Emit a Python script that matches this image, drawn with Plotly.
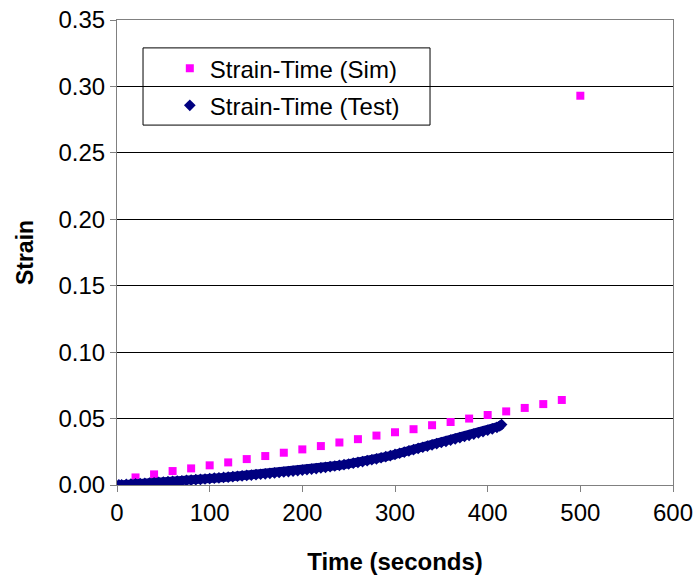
import plotly.graph_objects as go

# Simulated strain, sampled every 20 s
sim_time = [0, 20, 40, 60, 80, 100, 120, 140, 160, 180, 200, 220, 240, 260, 280,
            300, 320, 340, 360, 380, 400, 420, 440, 460, 480, 500]
sim_strain = [0.0000, 0.0057, 0.0080, 0.0105, 0.0125, 0.0148, 0.0170, 0.0195,
              0.0218, 0.0243, 0.0268, 0.0293, 0.0320, 0.0345, 0.0372, 0.0397,
              0.0420, 0.0450, 0.0474, 0.0500, 0.0527, 0.0554, 0.0580, 0.0609,
              0.0640, 0.2930]

# Measured strain from the test rig
test_time = [2, 5, 10, 15, 20, 25, 30, 35, 40, 45, 50, 55, 60, 65, 70, 75, 80, 85,
             90, 95, 100, 105, 110, 115, 120, 125, 130, 135, 140, 145, 150, 155,
             160, 165, 170, 175, 180, 185, 190, 195, 200, 205, 210, 215, 220, 225,
             230, 235, 240, 245, 250, 255, 260, 265, 270, 275, 280, 285, 290, 295,
             300, 305, 310, 315, 320, 325, 330, 335, 340, 345, 350, 355, 360, 365,
             370, 375, 380, 385, 390, 395, 400, 405, 410, 413, 415]
test_strain = [0.0001, 0.0002, 0.0004, 0.0006, 0.0008, 0.0011, 0.0013, 0.0015,
               0.0017, 0.0020, 0.0022, 0.0025, 0.0027, 0.0030, 0.0032, 0.0035,
               0.0037, 0.0040, 0.0042, 0.0045, 0.0048, 0.0051, 0.0054, 0.0057,
               0.0060, 0.0063, 0.0066, 0.0069, 0.0072, 0.0075, 0.0078, 0.0081,
               0.0084, 0.0088, 0.0091, 0.0094, 0.0098, 0.0101, 0.0105, 0.0108,
               0.0112, 0.0116, 0.0120, 0.0124, 0.0129, 0.0133, 0.0138, 0.0143,
               0.0148, 0.0153, 0.0158, 0.0164, 0.0170, 0.0176, 0.0183, 0.0190,
               0.0197, 0.0205, 0.0213, 0.0221, 0.0230, 0.0239, 0.0248, 0.0257,
               0.0266, 0.0275, 0.0284, 0.0293, 0.0302, 0.0311, 0.0320, 0.0329,
               0.0338, 0.0347, 0.0356, 0.0365, 0.0374, 0.0383, 0.0393, 0.0402,
               0.0412, 0.0422, 0.0434, 0.0444, 0.0455]

x_ticks = [0, 100, 200, 300, 400, 500, 600]
y_ticks = [0.00, 0.05, 0.10, 0.15, 0.20, 0.25, 0.30, 0.35]

FONT = "Liberation Sans, Arial, sans-serif"
AXIS_GREY = "#808080"
NAVY = "#000080"

fig = go.Figure()
fig.add_trace(go.Scatter(
    x=sim_time, y=sim_strain, mode="markers", name="Strain-Time (Sim)",
    legendgroup="sim",
    marker=dict(symbol="square", size=8, color="#FF00FF"),
))
# Dense test readings merge into a solid band
fig.add_trace(go.Scatter(
    x=test_time, y=test_strain, mode="lines", showlegend=False, hoverinfo="skip",
    legendgroup="test",
    line=dict(color=NAVY, width=9),
))
fig.add_trace(go.Scatter(
    x=test_time, y=test_strain, mode="markers", name="Strain-Time (Test)",
    legendgroup="test",
    marker=dict(symbol="diamond", size=9, color=NAVY),
))

# Legend frame (white box with black border)
fig.add_shape(type="rect", xref="paper", yref="paper",
              x0=0.0468, x1=0.563, y0=0.774, y1=0.94,
              line=dict(color="black", width=1), fillcolor="white", layer="below")

fig.update_layout(
    width=697, height=580,
    margin=dict(l=117, r=24, t=20, b=95),
    paper_bgcolor="white", plot_bgcolor="white",
    font=dict(family=FONT, size=24, color="black"),
    showlegend=True,
    legend=dict(x=0.095, y=0.944, xanchor="left", yanchor="top",
                traceorder="grouped", tracegroupgap=3,
                bgcolor="rgba(0,0,0,0)", borderwidth=0,
                font=dict(family=FONT, size=24, color="black")),
    xaxis=dict(
        range=[0, 600], tickvals=x_ticks, ticktext=[str(v) for v in x_ticks],
        showgrid=False, zeroline=False, automargin=False,
        showline=True, linecolor=AXIS_GREY, linewidth=1, mirror=True,
        ticks="outside", ticklen=6, tickcolor=AXIS_GREY,
        tickfont=dict(size=24),
        title=dict(text="<b>Time (seconds)</b>", font=dict(size=24), standoff=28),
    ),
    yaxis=dict(
        range=[0, 0.35], tickvals=y_ticks, ticktext=[f"{v:.2f}" for v in y_ticks],
        showgrid=True, gridcolor="black", gridwidth=1, zeroline=False, automargin=False,
        showline=True, linecolor=AXIS_GREY, linewidth=1, mirror=True,
        ticks="outside", ticklen=6, tickcolor=AXIS_GREY,
        tickfont=dict(size=24),
        title=dict(text="<b>Strain</b>", font=dict(size=23), standoff=18),
    ),
)

fig.write_html("out.html")
